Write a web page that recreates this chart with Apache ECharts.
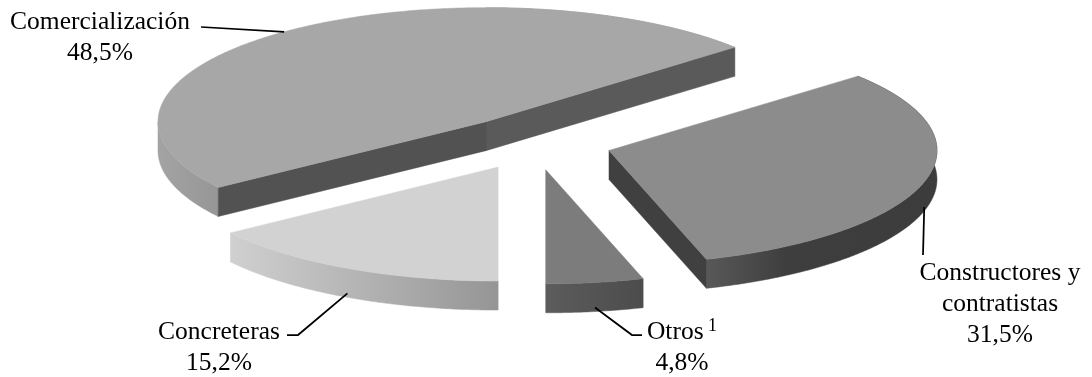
<!DOCTYPE html>
<html>
<head>
<meta charset="utf-8">
<style>
  html, body { margin: 0; padding: 0; background: #fff; }
  #chart { width: 1092px; height: 377px; }
</style>
<script src="https://cdn.jsdelivr.net/npm/echarts@6/dist/echarts.min.js"></script>
</head>
<body>
<div id="chart"></div>
<script>
// Market share by customer segment, drawn as an exploded tilted pie.
const categories = ['Otros', 'Constructores y\ncontratistas', 'Comercialización', 'Concreteras'];
const superscripts = ['1', '', '', ''];
const shares = [4.8, 31.5, 48.5, 15.2];

// Disc projection: the pie lies flat and is squashed vertically.
const disc = { cx: 534, cy: 143, rx: 328, ry: 114, depth: 29, explode: 78 };

// Fill for the top, the two cut faces and the rim gradient of every slice.
const shading = [
  { top: '#7c7c7c', faceA: '#5a5a5a', faceB: '#5a5a5a', rim: [[0, '#5c5c5c'], [1, '#4c4c4c']] },
  { top: '#8c8c8c', faceA: '#404040', faceB: '#404040', rim: [[0, '#585858'], [0.35, '#3e3e3e'], [1, '#3c3c3c']] },
  { top: '#a7a7a7', faceA: '#5a5a5a', faceB: '#525252', rim: [[0, '#a3a3a3'], [1, '#969696']] },
  { top: '#d2d2d2', faceA: '#d0d0d0', faceB: '#d0d0d0', rim: [[0, '#d0d0d0'], [1, '#959595']] }
];

// Label anchor and the remaining leader-line vertices for every slice.
const callouts = [
  { x: 682, y: 317, leader: [[632, 335], [642, 335]] },
  { x: 1000, y: 258, leader: [[923, 255]] },
  { x: 100, y: 7, leader: [[201, 27]] },
  { x: 219, y: 317, leader: [[298, 335], [287, 335]] }
];

const TAU = Math.PI * 2;
const total = shares.reduce((sum, v) => sum + v, 0);

// Angles run from the front of the pie, towards the right.
function sliceAngles(index) {
  let start = 0;
  for (let i = 0; i < index; i++) start += shares[i] / total * TAU;
  return [start, start + shares[index] / total * TAU];
}

function rimPoint(apex, angle, drop) {
  return [
    apex[0] + disc.rx * Math.sin(angle),
    apex[1] + disc.ry * Math.cos(angle) + drop
  ];
}

function arcPoints(apex, from, to, drop) {
  const steps = Math.max(2, Math.ceil(Math.abs(to - from) / 0.01));
  const points = [];
  for (let i = 0; i <= steps; i++) {
    points.push(rimPoint(apex, from + (to - from) * i / steps, drop));
  }
  return points;
}

function renderSlice(params, api) {
  const index = params.dataIndex;
  const style = shading[index];
  const [a0, a1] = sliceAngles(index);
  const mid = (a0 + a1) / 2;
  const apex = [
    disc.cx + disc.explode * Math.sin(mid),
    disc.cy + disc.explode * disc.ry / disc.rx * Math.cos(mid)
  ];
  const children = [];
  const polygon = (points, fill) => children.push({
    type: 'polygon',
    shape: { points },
    style: { fill, stroke: fill, lineWidth: 0.5 }
  });

  // Outer wall: only the part of the arc that faces the viewer.
  const ranges = [[a0, Math.min(a1, Math.PI)], [Math.max(a0, Math.PI), a1]];
  ranges.forEach(([from, to]) => {
    if (to - from < 1e-6) return;
    if (from >= Math.PI && to <= Math.PI * 1.5) return;
    const start = from >= Math.PI ? Math.max(from, Math.PI * 1.5) : from;
    const upper = arcPoints(apex, start, to, 0);
    const lower = arcPoints(apex, to, start, disc.depth);
    const stops = style.rim.map(([offset, color]) => ({ offset, color }));
    polygon(upper.concat(lower), new echarts.graphic.LinearGradient(0, 0, 1, 0, stops));
  });

  // Cut faces, drawn when their outward side points to the front.
  const face = (angle, fill) => {
    const rim = rimPoint(apex, angle, 0);
    polygon([apex, rim, [rim[0], rim[1] + disc.depth], [apex[0], apex[1] + disc.depth]], fill);
  };
  if (Math.sin(a0) > 1e-6) face(a0, style.faceA);
  if (Math.sin(a1) < -1e-6) face(a1, style.faceB);

  // Top surface.
  polygon([apex].concat(arcPoints(apex, a0, a1, 0)), style.top);

  // Leader line starting on the rim at the slice's bisector.
  const callout = callouts[index];
  const facesFront = Math.cos(mid) > 0;
  const origin = rimPoint(apex, mid, facesFront ? disc.depth - 4 : 0);
  children.push({
    type: 'polyline',
    shape: { points: [origin].concat(callout.leader) },
    style: { fill: null, stroke: '#000', lineWidth: 1.75 },
    z2: 5
  });

  // Category name with its share underneath.
  const lines = categories[index].split('\n').map((line) => '{n|' + line + '}');
  if (superscripts[index]) lines[0] += '{s| ' + superscripts[index] + '}';
  const share = api.value(0).toFixed(1).replace('.', ',') + '%';
  children.push({
    type: 'text',
    x: callout.x,
    y: callout.y,
    z2: 6,
    style: {
      text: lines.concat('{n|' + share + '}').join('\n'),
      align: 'center',
      verticalAlign: 'top',
      rich: {
        n: { fontFamily: 'Liberation Serif', fontSize: 25.5, lineHeight: 31, fill: '#000' },
        s: { fontFamily: 'Liberation Serif', fontSize: 18, lineHeight: 31, verticalAlign: 'top', fill: '#000' }
      }
    }
  });

  return { type: 'group', children };
}

const chart = echarts.init(document.getElementById('chart'), null, { renderer: 'canvas' });
chart.setOption({
  backgroundColor: '#ffffff',
  animation: false,
  series: [{
    type: 'custom',
    coordinateSystem: 'none',
    silent: true,
    renderItem: renderSlice,
    data: shares.map((v) => [v])
  }]
});
</script>
</body>
</html>
